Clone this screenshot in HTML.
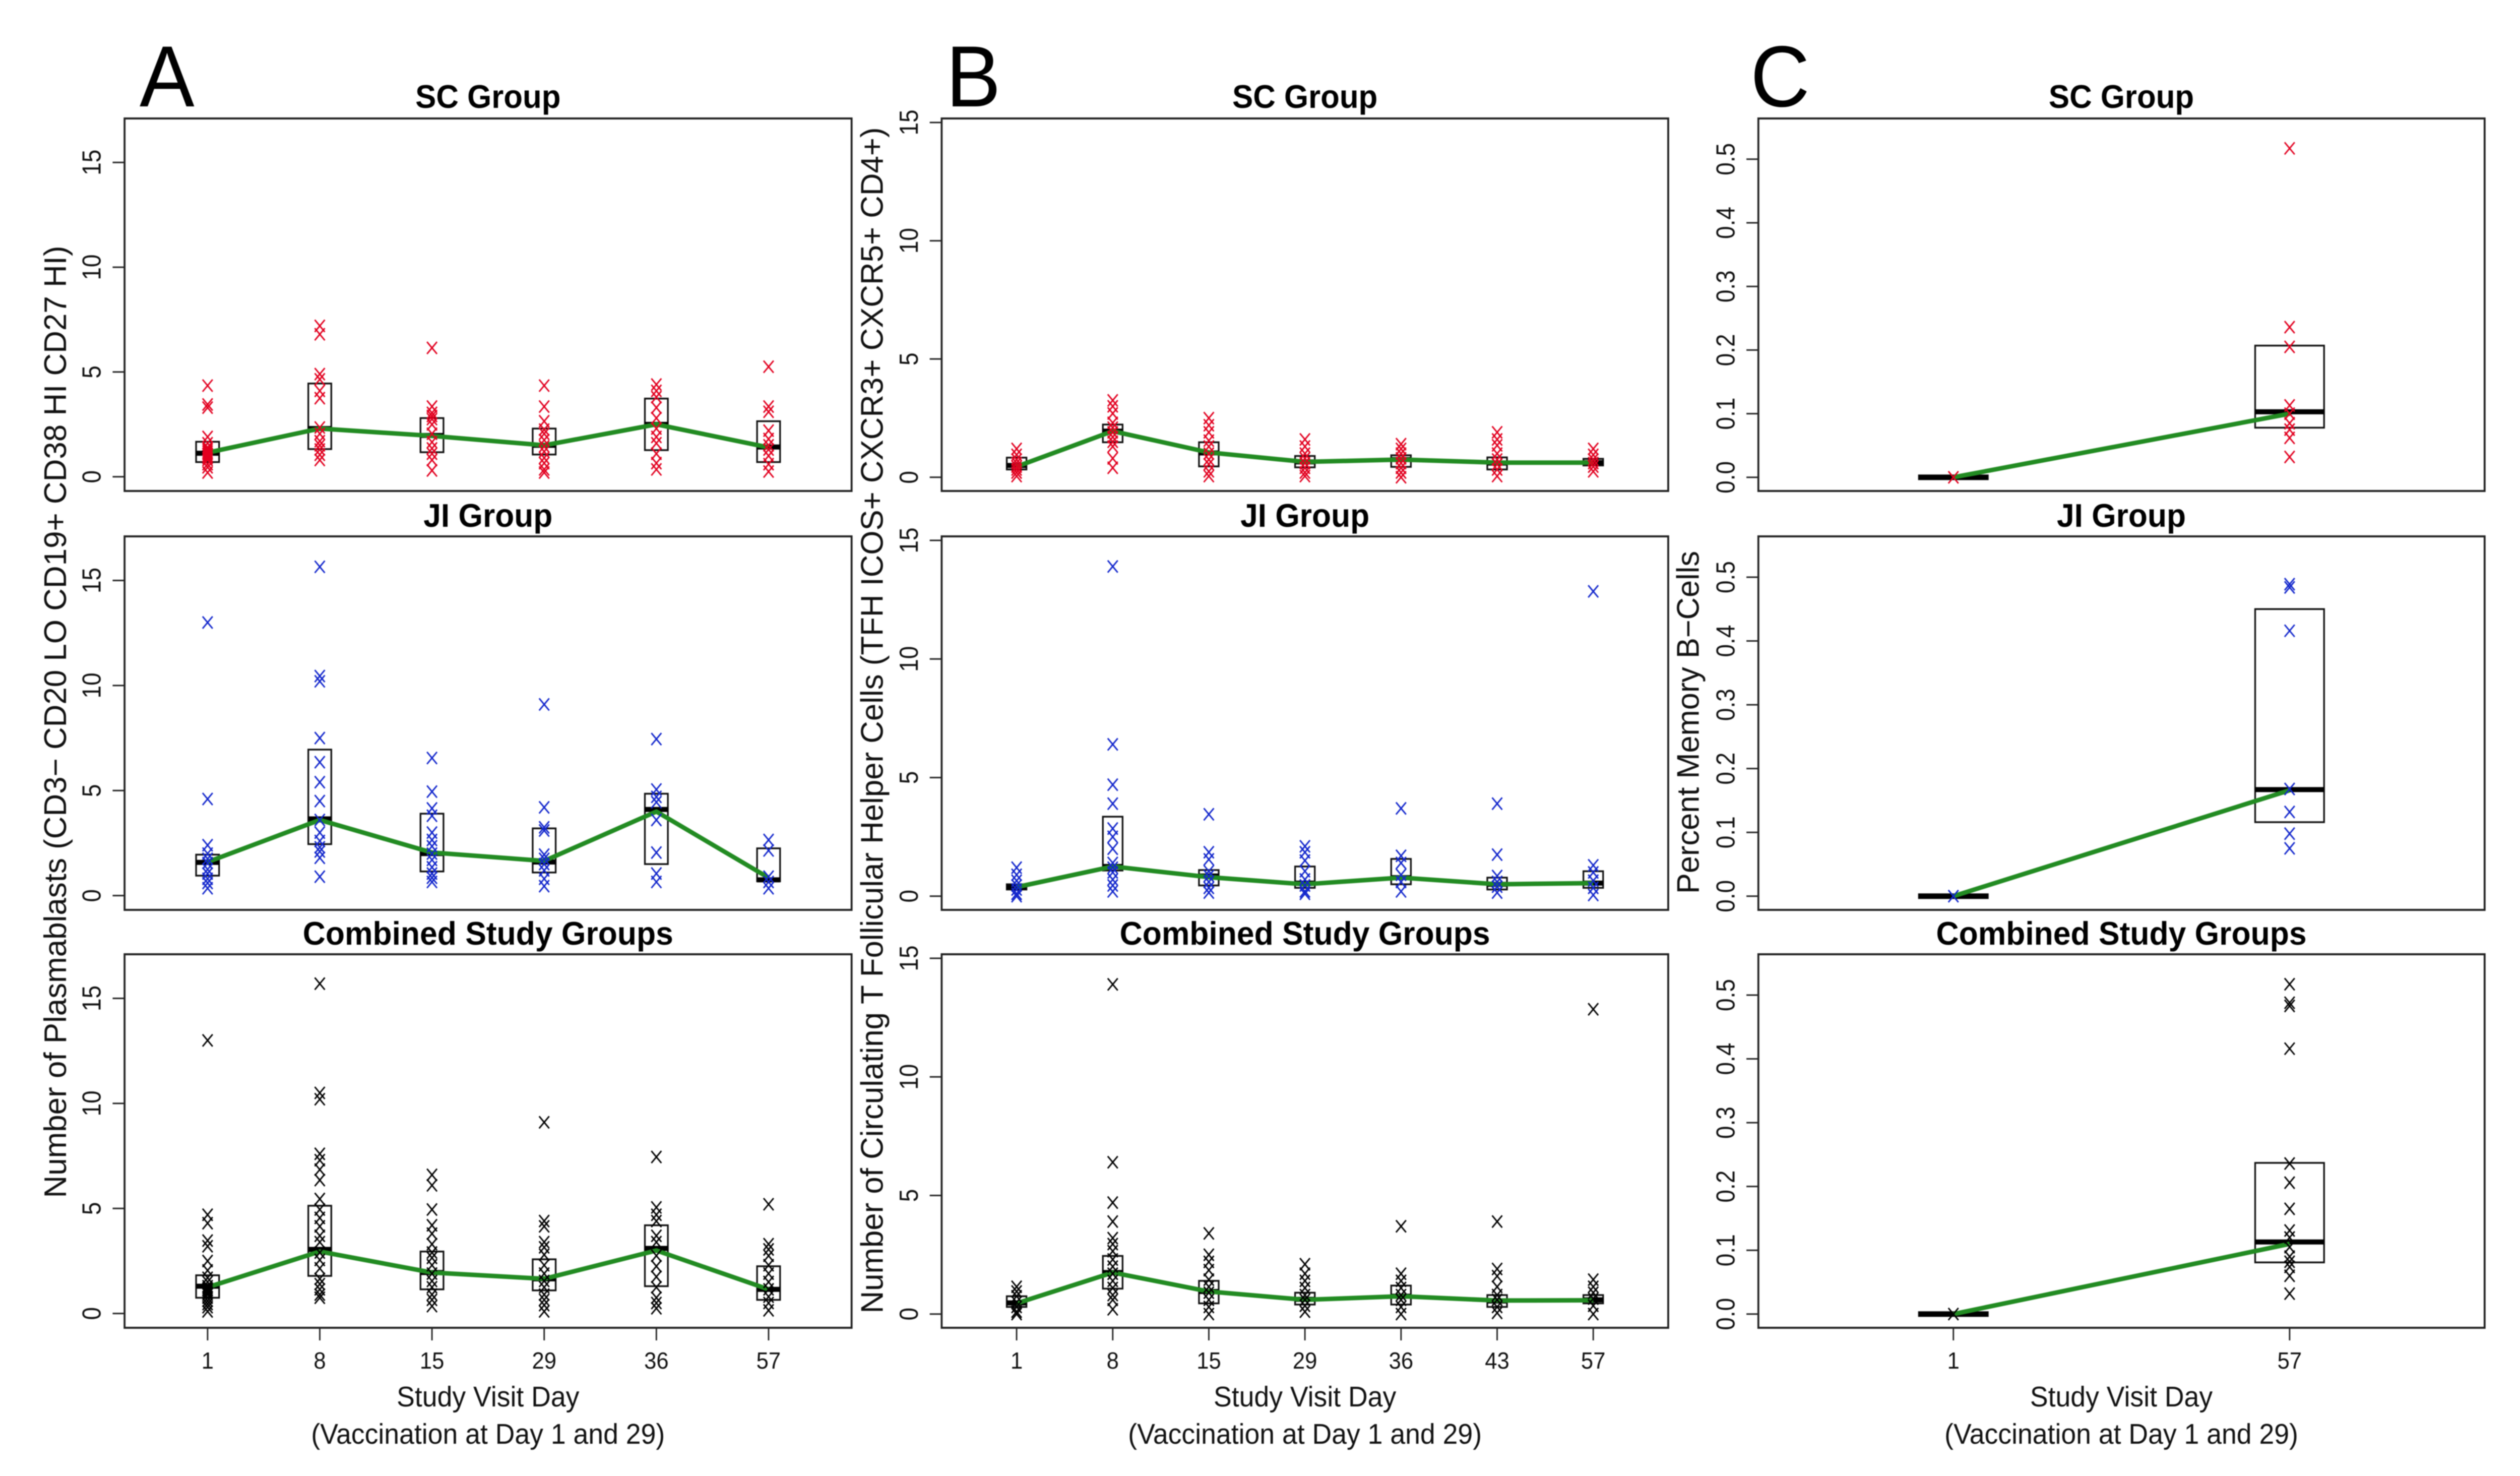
<!DOCTYPE html>
<html lang="en">
<head>
<meta charset="utf-8">
<title>Plasmablasts, T follicular helper cells and memory B-cells by study visit day</title>
<style>
html,body{margin:0;padding:0;background:#fff;width:100%;height:100%;overflow:hidden;}
svg{display:block;width:100vw;height:100vh;font-family:"Liberation Sans",Arial,sans-serif;filter:blur(1px);}
.title{font-weight:bold;font-size:65px;text-anchor:middle;fill:#000;}
.letter{font-size:172px;fill:#000;}
.xlab{font-size:56.5px;text-anchor:middle;fill:#111;}
.ylab{font-size:62px;text-anchor:middle;fill:#111;}
.tick{font-size:46px;text-anchor:middle;fill:#111;}
</style>
</head>
<body>
<svg id="chart" xmlns="http://www.w3.org/2000/svg" viewBox="0 0 5272 2928" preserveAspectRatio="none">
<rect x="0" y="0" width="5272" height="2928" fill="#fff"/>
<text class="letter" x="292" y="211">A</text>
<text class="letter" x="1979" y="211">B</text>
<text class="letter" x="3662" y="211">C</text>

<text class="title" x="1021" y="214" textLength="304" lengthAdjust="spacingAndGlyphs">SC Group</text>
<text class="title" x="1021" y="1045" textLength="270" lengthAdjust="spacingAndGlyphs">JI Group</text>
<text class="title" x="1021" y="1874" textLength="775" lengthAdjust="spacingAndGlyphs">Combined Study Groups</text>
<text class="title" x="2730" y="214" textLength="304" lengthAdjust="spacingAndGlyphs">SC Group</text>
<text class="title" x="2730" y="1045" textLength="270" lengthAdjust="spacingAndGlyphs">JI Group</text>
<text class="title" x="2730" y="1874" textLength="775" lengthAdjust="spacingAndGlyphs">Combined Study Groups</text>
<text class="title" x="4438" y="214" textLength="304" lengthAdjust="spacingAndGlyphs">SC Group</text>
<text class="title" x="4438" y="1045" textLength="270" lengthAdjust="spacingAndGlyphs">JI Group</text>
<text class="title" x="4438" y="1874" textLength="775" lengthAdjust="spacingAndGlyphs">Combined Study Groups</text>

<text class="ylab" transform="translate(138,1432) rotate(-90) scale(1,1.05)" textLength="1889" lengthAdjust="spacingAndGlyphs">Number of Plasmablasts (CD3− CD20 LO CD19+ CD38 HI CD27 HI)</text>
<text class="ylab" transform="translate(1847,1429) rotate(-90) scale(1,1.05)" textLength="2353" lengthAdjust="spacingAndGlyphs">Number of Circulating T Follicular Helper Cells (TFH ICOS+ CXCR3+ CXCR5+ CD4+)</text>
<text class="ylab" transform="translate(3554,1433) rotate(-90) scale(1,1.05)" textLength="680" lengthAdjust="spacingAndGlyphs">Percent Memory B−Cells</text>

<text class="xlab" x="1021" y="2790">Study Visit Day</text>
<text class="xlab" x="1021" y="2864">(Vaccination at Day 1 and 29)</text>
<text class="xlab" x="2730" y="2790">Study Visit Day</text>
<text class="xlab" x="2730" y="2864">(Vaccination at Day 1 and 29)</text>
<text class="xlab" x="4438" y="2790">Study Visit Day</text>
<text class="xlab" x="4438" y="2864">(Vaccination at Day 1 and 29)</text>
</svg>
<script>
// ---------- categories and tick labels ----------
const daysA = ['1','8','15','29','36','57'];
const daysB = ['1','8','15','29','36','43','57'];
const daysC = ['1','57'];
const yTicksCount = [0,5,10,15];
const yTickLabelsCount = ['0','5','10','15'];
const yTicksPercent = [0,0.1,0.2,0.3,0.4,0.5];
const yTickLabelsPercent = ['0.0','0.1','0.2','0.3','0.4','0.5'];

// ---------- column A: plasmablasts ----------
const aScPoints = [
 [4.35,3.45,3.3,1.9,1.6,1.4,1.3,1.2,1.1,1.0,0.9,0.8,0.6,0.45,0.2],
 [7.2,6.8,4.9,4.65,4.1,3.75,2.35,2.05,1.7,1.5,1.3,1.05,0.8],
 [6.15,3.35,3.05,2.9,2.75,2.5,2.05,1.65,1.35,1.1,0.8,0.3],
 [4.35,3.35,2.65,2.25,2.05,1.75,1.45,1.2,0.9,0.65,0.35,0.2],
 [4.4,4.1,3.8,3.3,2.8,2.3,1.9,1.6,1.1,0.65,0.35],
 [5.25,3.35,3.1,2.2,1.8,1.5,1.3,1.0,0.6,0.25]];
const aScQ3 = [1.67,4.45,2.8,2.3,3.73,2.65];
const aScQ1 = [0.7,1.32,1.17,1.06,1.27,0.7];
const aScMedian = [1.12,2.3,1.97,1.5,2.5,1.42];
const aScMean = [1.15,2.3,1.95,1.5,2.5,1.4];

const aJiPoints = [
 [13.0,4.6,2.4,2.0,1.75,1.55,1.25,1.05,0.8,0.6,0.35],
 [15.65,10.45,10.2,7.5,6.35,5.4,4.5,3.6,3.0,2.6,2.3,2.1,1.8,0.9],
 [6.55,4.95,4.15,3.8,3.0,2.65,2.35,2.0,1.7,1.35,1.05,0.85,0.65],
 [9.1,4.2,3.25,3.1,1.95,1.75,1.5,1.2,0.8,0.45],
 [7.45,5.05,4.7,4.45,3.6,2.05,1.05,0.65],
 [2.65,2.15,0.9,0.65,0.35]];
const aJiQ3 = [1.95,6.95,3.9,3.2,4.85,2.25];
const aJiQ1 = [0.95,2.45,1.15,1.1,1.5,0.68];
const aJiMedian = [1.58,3.65,2.0,1.6,4.1,0.75];
const aJiMean = [1.6,3.6,2.05,1.65,4.0,0.85];

const aAllPoints = [
 [13.0,4.7,4.3,3.47,3.2,2.5,2.05,1.7,1.5,1.3,1.2,1.1,1.0,0.9,0.75,0.6,0.45,0.3,0.1],
 [15.7,10.5,10.2,7.6,7.3,6.85,6.35,5.45,4.95,4.55,4.15,3.7,3.4,2.9,2.55,2.15,1.65,1.4,1.15,0.9,0.75],
 [6.6,6.1,4.95,4.2,3.8,3.3,2.9,2.65,2.3,1.9,1.55,1.25,0.9,0.65,0.35],
 [9.1,4.4,4.15,3.4,3.15,2.8,2.3,1.9,1.55,1.25,0.9,0.65,0.4,0.1],
 [7.45,5.05,4.7,4.4,3.7,3.4,2.75,2.25,1.75,1.25,0.75,0.5,0.25],
 [5.2,3.3,3.05,2.75,2.3,1.9,1.5,1.15,0.8,0.5,0.15]];
const aAllQ3 = [1.82,5.13,2.95,2.58,4.2,2.25];
const aAllQ1 = [0.75,1.79,1.15,1.1,1.3,0.65];
const aAllMedian = [1.3,3.05,1.95,1.65,3.1,1.15];
const aAllMean = [1.25,2.95,1.95,1.65,3.0,1.15];

// ---------- column B: T follicular helper cells ----------
const bScPoints = [
 [1.2,0.95,0.75,0.6,0.45,0.33,0.2,0.05],
 [3.25,3.0,2.7,2.3,2.1,1.9,1.7,1.5,1.3,0.8,0.4],
 [2.5,2.2,1.9,1.55,1.3,1.0,0.75,0.55,0.25,0.05],
 [1.6,1.3,1.0,0.8,0.6,0.4,0.2,0.05],
 [1.4,1.2,1.0,0.8,0.6,0.4,0.2,0.0],
 [1.9,1.6,1.35,1.0,0.75,0.55,0.33,0.05],
 [1.2,0.95,0.75,0.6,0.45,0.25]];
const bScQ3 = [0.83,2.23,1.48,0.9,0.93,0.84,0.78];
const bScQ1 = [0.33,1.48,0.46,0.42,0.44,0.33,0.5];
const bScMedian = [0.5,1.95,1.03,0.65,0.75,0.6,0.62];
const bScMean = [0.45,1.95,1.05,0.65,0.75,0.62,0.62];

const bJiPoints = [
 [1.2,0.9,0.65,0.45,0.28,0.1,0.0],
 [13.9,6.4,4.7,3.9,2.85,2.5,2.0,1.4,1.2,1.0,0.7,0.45,0.2],
 [3.45,1.85,1.55,1.05,0.85,0.6,0.35,0.15],
 [2.1,1.85,1.5,1.05,0.7,0.45,0.2,0.1],
 [3.7,1.7,1.4,0.9,0.6,0.2],
 [3.9,1.75,0.85,0.6,0.4,0.15],
 [12.85,1.3,1.0,0.65,0.35,0.05]];
const bJiQ3 = [0.5,3.35,1.1,1.25,1.57,0.78,1.05];
const bJiQ1 = [0.28,1.08,0.45,0.35,0.5,0.28,0.35];
const bJiMedian = [0.38,1.25,0.85,0.55,0.78,0.5,0.55];
const bJiMean = [0.38,1.25,0.8,0.5,0.78,0.5,0.55];

const bAllPoints = [
 [1.15,0.95,0.75,0.5,0.3,0.1,0.0],
 [13.9,6.4,4.7,3.9,3.2,2.95,2.65,2.3,2.0,1.7,1.4,1.1,0.8,0.6,0.2],
 [3.4,2.5,2.2,1.85,1.45,1.15,0.9,0.6,0.3,0.0],
 [2.1,1.7,1.4,1.1,0.8,0.6,0.35,0.1],
 [3.7,1.7,1.4,1.1,0.8,0.6,0.3,0.0],
 [3.9,1.9,1.6,1.15,0.8,0.6,0.3,0.05],
 [12.85,1.45,1.15,0.9,0.65,0.35,0.0]];
const bAllQ3 = [0.75,2.45,1.4,0.9,1.2,0.8,0.8];
const bAllQ1 = [0.3,1.07,0.45,0.4,0.4,0.3,0.45];
const bAllMedian = [0.47,1.75,0.95,0.62,0.75,0.55,0.6];
const bAllMean = [0.45,1.75,0.95,0.6,0.75,0.57,0.58];

// ---------- column C: memory B-cells ----------
const cScPoints = [
 [0.0],
 [0.517,0.236,0.205,0.113,0.1,0.085,0.075,0.062,0.032]];
const cScQ3 = [0.003,0.207];
const cScQ1 = [-0.003,0.078];
const cScMedian = [0.0,0.103];
const cScMean = [0.0,0.1];

const cJiPoints = [
 [0.0],
 [0.489,0.484,0.416,0.168,0.132,0.098,0.075]];
const cJiQ3 = [0.003,0.45];
const cJiQ1 = [-0.003,0.116];
const cJiMedian = [0.0,0.167];
const cJiMean = [0.0,0.166];

const cAllPoints = [
 [0.0],
 [0.517,0.488,0.483,0.416,0.236,0.206,0.165,0.131,0.12,0.105,0.09,0.082,0.074,0.06,0.032]];
const cAllQ3 = [0.003,0.237];
const cAllQ1 = [-0.003,0.081];
const cAllMedian = [0.0,0.113];
const cAllMean = [0.0,0.11];

// ---------- helpers ----------
const NS = 'http://www.w3.org/2000/svg';
const svg = document.getElementById('chart');
const GREEN = '#228B22', RED = '#E2001F', BLUE = '#1226CC', BLACK = '#000';
const COLUMN_X = {a:[260.6,1781.6], b:[1970,3490], c:[3678.6,5198]};
const ROW_Y = [[235,974],[1064,1805],[1893,2634]];
const Y_DOMAIN = {a:[-0.68,17.1], b:[-0.58,15.17], c:[-0.0215,0.564]};

function el(tag, attrs, parent){
  const e = document.createElementNS(NS, tag);
  for (const k in attrs) e.setAttribute(k, attrs[k]);
  parent.appendChild(e);
  return e;
}
function xScale(col, n){
  const pad = n * 0.04;
  const lo = 0.5 - pad, hi = n + 0.5 + pad;
  const r = COLUMN_X[col];
  return i => r[0] + (i + 1 - lo) / (hi - lo) * (r[1] - r[0]);
}
function yScale(col, row){
  const d = Y_DOMAIN[col], r = ROW_Y[row];
  return v => r[1] - (v - d[0]) / (d[1] - d[0]) * (r[1] - r[0]);
}

function drawPanel(name, col, row, days, yTicks, yLabels, points, q1, q3, med, mean, color){
  const x = xScale(col, days.length), y = yScale(col, row);
  const X = COLUMN_X[col], Y = ROW_Y[row];
  const step = x(1) - x(0), boxW = step * 0.205;

  const g = el('g', {}, svg);
  
  

  // y axis
  yTicks.forEach((t, i) => {
    const tk = el('line', {x1:X[0]-25, x2:X[0], y1:y(t), y2:y(t), stroke:'#222', 'stroke-width':3}, g);
    
    
    const lb = el('text', {class:'tick', transform:'translate(' + (X[0]-50) + ',' + y(t) + ') rotate(-90) scale(1,1.2)'}, g);
    lb.textContent = yLabels[i];
    
    
  });

  // x axis (bottom row only)
  if (row === 2) {
    days.forEach((d, i) => {
      const tk = el('line', {x1:x(i), x2:x(i), y1:Y[1], y2:Y[1]+25, stroke:'#222', 'stroke-width':3}, g);
      
      
      const lb = el('text', {class:'tick', x:x(i), y:2715}, g);
      lb.textContent = d;
      
      
    });
  }

  // boxes
  days.forEach((d, i) => {
    const box = el('rect', {x:x(i)-boxW/2, y:y(q3[i]), width:boxW, height:Math.abs(y(q1[i])-y(q3[i])), fill:'none', stroke:'#111', 'stroke-width':3.5}, g);
    
    
    const m = el('line', {x1:x(i)-boxW/2, x2:x(i)+boxW/2, y1:y(med[i]), y2:y(med[i]), stroke:'#000', 'stroke-width':10}, g);
    
    
  });

  // trend line through the central values
  const trend = el('polyline', {points:mean.map((v, i) => x(i) + ',' + y(v)).join(' '), fill:'none', stroke:GREEN, 'stroke-width':9, 'stroke-linejoin':'round'}, g);
  
  

  // individual subject markers
  points.forEach((vals, i) => {
    vals.forEach(v => {
      const a = 10.5, b = 12, px = x(i), py = y(v);
      const mk = el('path', {d:'M' + (px-a) + ' ' + (py-b) + 'L' + (px+a) + ' ' + (py+b) + 'M' + (px-a) + ' ' + (py+b) + 'L' + (px+a) + ' ' + (py-b), fill:'none', stroke:color, 'stroke-width':3}, g);
      
      
    });
  });

  // frame
  const frame = el('rect', {x:X[0], y:Y[0], width:X[1]-X[0], height:Y[1]-Y[0], fill:'none', stroke:'#222', 'stroke-width':4}, g);
  
  
}

drawPanel('a-sc','a',0,daysA,yTicksCount,yTickLabelsCount,aScPoints,aScQ1,aScQ3,aScMedian,aScMean,RED);
drawPanel('a-ji','a',1,daysA,yTicksCount,yTickLabelsCount,aJiPoints,aJiQ1,aJiQ3,aJiMedian,aJiMean,BLUE);
drawPanel('a-combined','a',2,daysA,yTicksCount,yTickLabelsCount,aAllPoints,aAllQ1,aAllQ3,aAllMedian,aAllMean,BLACK);
drawPanel('b-sc','b',0,daysB,yTicksCount,yTickLabelsCount,bScPoints,bScQ1,bScQ3,bScMedian,bScMean,RED);
drawPanel('b-ji','b',1,daysB,yTicksCount,yTickLabelsCount,bJiPoints,bJiQ1,bJiQ3,bJiMedian,bJiMean,BLUE);
drawPanel('b-combined','b',2,daysB,yTicksCount,yTickLabelsCount,bAllPoints,bAllQ1,bAllQ3,bAllMedian,bAllMean,BLACK);
drawPanel('c-sc','c',0,daysC,yTicksPercent,yTickLabelsPercent,cScPoints,cScQ1,cScQ3,cScMedian,cScMean,RED);
drawPanel('c-ji','c',1,daysC,yTicksPercent,yTickLabelsPercent,cJiPoints,cJiQ1,cJiQ3,cJiMedian,cJiMean,BLUE);
drawPanel('c-combined','c',2,daysC,yTicksPercent,yTickLabelsPercent,cAllPoints,cAllQ1,cAllQ3,cAllMedian,cAllMean,BLACK);
</script>
</body>
</html>
